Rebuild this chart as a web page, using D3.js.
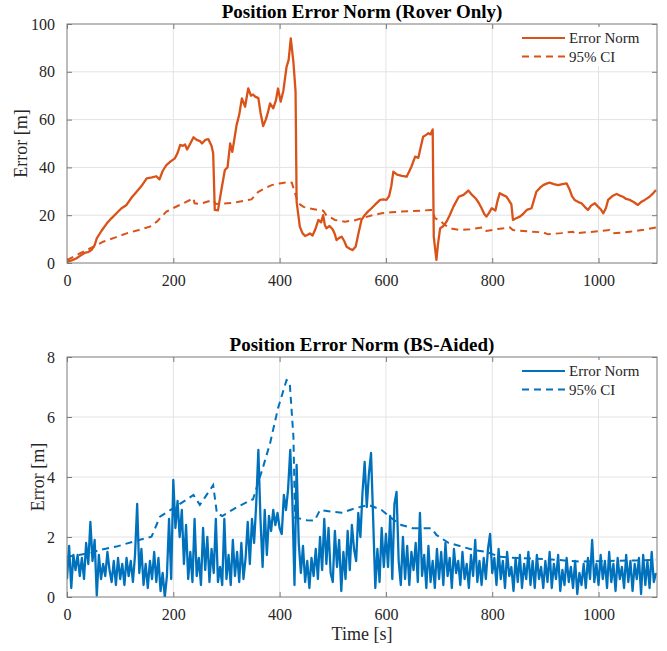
<!DOCTYPE html>
<html>
<head>
<meta charset="utf-8">
<script src="https://cdn.jsdelivr.net/npm/d3@7"></script>
<style>
  html, body { margin: 0; padding: 0; background: #fff; }
  svg { display: block; font-family: "Liberation Serif", "Times New Roman", serif; }
  svg text { font-family: "Liberation Serif", "Times New Roman", serif; }
  .tick text { font-size: 16px; fill: #262626; }
</style>
</head>
<body>
<svg id="chart" width="667" height="651"></svg>
<script>
// ---- Rover-only solution: error norm and 95% confidence bound ----
const roverTime = [0,10,18,26,34,40,46,52,56,65,75,84,93,102,112,122,131,140,150,160,168,174,180,187,195,203,208,213,218,222,226,232,238,244,250,254,260,266,272,275,278,284,290,297,302,307,311,315,319,324,329,335,341,346,350,354,360,364,369,374,378,382,388,393,397,402,407,413,417,421,426,430,432,438,443,448,453,457,462,467,473,478,482,485,488,494,500,504,507,512,517,522,526,532,537,543,548,554,560,566,573,580,589,595,601,606,610,614,621,630,639,648,655,661,665,670,675,680,684,688,690,695,698,702,708,714,720,727,737,746,755,762,769,775,780,785,789,794,799,806,810,814,820,827,832,836,839,845,852,858,865,874,878,883,890,896,902,908,916,924,932,940,946,950,955,962,968,974,980,986,993,999,1004,1009,1014,1018,1026,1034,1040,1046,1052,1059,1066,1074,1080,1087,1096,1102,1108];
const roverErr = [0.5,1.2,2,3.2,4.3,4.6,5.4,7.5,10.3,13.5,16.6,18.8,20.8,22.8,24.3,27.5,29.8,32.2,35.4,35.8,36.3,35,38.5,41,42.5,43.8,46,49.4,49,49.6,47.5,50,52.6,51.5,51,50,51.5,51.8,49,45.9,22.2,22,30,38.9,40,50,46.5,52,57.7,62,68.9,65.4,73.1,70,70.5,69.6,69,63,57.3,60,63,66.8,64.7,68,73,67.5,72,82,85,94,84,71.7,25.6,15.2,12.5,11.3,11.8,12.4,11.5,14,18,17,20,16,14.5,15.5,14,12,9.6,10.5,11,9,6.8,6,5.4,6.8,12,18,20,21.5,22.9,24.5,26.4,26.6,26.4,28,32,38.2,37,36.5,36.1,40.3,44.5,44,48,52.8,53.5,54.3,53.8,55.9,11,1.3,8,14.5,15.5,17.3,20,23.6,27.7,28.5,30.3,28.5,27,25,22.9,20.5,19.4,21,22.9,22,26,29.2,28.5,27.7,26,24.5,18,18.7,19.4,20.5,22.2,22.9,26,29.8,31.5,32.6,33.2,33.6,33,32.6,33,33.3,30.5,28,26.4,25.5,25,23.5,22.2,24,25,23.6,22.5,20.8,23,26.4,28,28.9,28.2,27.7,26.8,26.4,25.5,24.3,25.5,26.4,27.7,29,30.5];
const roverCITime = [0,24,50,68,90,112,135,156,169,187,200,219,238,240,250,262,275,280,290,313,347,360,372,385,400,416,423,429,435,445,454,470,482,488,504,523,540,554,575,592,610,629,650,667,684,688,692,701,710,717,725,739,758,783,789,810,833,839,870,896,905,930,952,955,985,1021,1027,1045,1059,1085,1108];
const roverCI = [1.2,4,6.8,8.9,10.6,12.4,13.8,15.2,17.3,21.5,23,25,27.1,25,24.7,25.5,26.4,24.7,24.8,25.2,26.6,29.8,31.2,32.6,33.3,33.8,33.6,29.2,25,23.5,22.9,22.3,21.9,20,18,17.3,17.8,18.7,20,20.8,21.2,21.5,21.7,21.9,22.2,22.2,18.7,18,16,15.2,14.3,13.8,14.1,14.9,13.4,14.2,14.9,13.8,13.2,12.8,12,12.5,13.1,12.4,13,13.8,12.4,12.7,13.1,13.9,14.9];

// ---- Base-station aided solution (sampled every 4 s) ----
const bsSampleStep = 4;
const bsErr = [
  0.6,1.7,0.3,1.4,0.9,1.4,0.7,1.3,0.6,1.8,1.1,2.5,1.2,1.9,0.05,1.4,0.6,1.1,0.7,1.5,0.9,0.5,1.2,0.4,1.3,
  0.6,1.1,0.4,1.3,0.7,1.2,0.5,1.4,3.1,0.8,1.6,0.4,1.1,0.3,1.2,0.6,1.5,0.5,1.3,0.2,0.8,0.0,0.7,2.6,0.6,
  3.9,2.3,3.2,2.0,2.9,1.1,2.4,0.6,1.5,0.5,2.6,0.7,1.3,0.4,2.3,0.9,2.0,0.5,1.6,0.8,2.6,0.5,1.0,0.4,2.6,
  0.6,1.4,0.4,1.9,0.7,1.5,0.5,1.8,0.6,1.3,2.5,1.1,2.6,1.8,3.1,4.9,2.6,1.0,2.9,1.4,2.7,2.2,2.9,2.4,2.8,
  2.3,2.1,3.4,2.9,3.6,4.9,3.2,0.4,4.4,1.8,0.8,1.7,0.5,1.2,0.3,1.3,0.7,1.6,0.6,2.0,0.9,2.6,1.1,2.3,0.8,
  0.5,2.2,1.0,1.9,0.2,1.5,0.6,2.2,0.9,2.4,1.6,1.2,2.8,2.0,3.5,4.5,3.0,4.1,4.8,2.6,0.3,1.6,0.5,2.3,1.0,
  2.1,1.0,2.7,0.6,3.1,3.5,1.2,0.4,2.0,0.6,1.7,0.4,1.5,0.9,1.8,0.5,2.8,0.7,1.4,0.3,1.7,0.5,1.2,0.3,1.6,
  0.6,1.5,0.4,1.8,0.7,1.3,0.3,1.6,0.8,1.2,0.4,1.5,0.6,1.1,0.3,1.4,0.7,1.9,0.5,1.2,0.4,1.3,0.6,1.6,2.1,
  0.8,1.3,0.4,1.6,0.6,1.2,0.3,1.5,0.7,1.0,0.2,1.3,0.5,1.4,0.3,1.1,0.6,1.5,0.4,1.2,0.3,1.4,0.6,1.0,0.3,
  1.2,0.5,1.5,0.3,1.1,0.6,1.4,0.2,0.9,0.4,1.3,0.5,1.0,0.3,1.2,0.1,0.8,0.4,1.1,0.3,1.3,0.6,1.9,0.5,1.1,
  0.4,1.4,0.6,1.2,0.3,1.5,0.5,1.1,0.2,1.3,0.6,1.0,0.3,1.4,0.5,1.2,0.2,1.1,0.6,1.3,0.1,1.4,0.4,1.2,0.3,1.5,0.5,0.8
];
const bsTime = bsErr.map((_, i) => i * bsSampleStep);
const bsCITime = [0,43,62,93,131,159,175,200,238,250,275,282,292,320,350,369,382,397,413,419,426,429,451,466,476,501,517,542,567,592,611,629,651,686,695,717,739,764,789,814,846,896,965,1015,1071,1108];
const bsCI = [1.34,1.46,1.57,1.68,1.88,2.01,2.68,2.96,3.4,3.07,3.73,2.79,2.7,3.0,3.26,4.34,5.12,6.29,7.23,7.15,5.34,2.65,2.56,2.55,2.9,2.84,2.81,2.96,3.07,2.9,2.62,2.4,2.29,2.29,2.07,1.81,1.7,1.57,1.5,1.34,1.3,1.27,1.18,1.2,1.22,1.24];

// ---- Axis ticks and labels ----
const timeTicks = [0, 200, 400, 600, 800, 1000];
const roverTicks = [0, 20, 40, 60, 80, 100];
const bsTicks = [0, 2, 4, 6, 8];
const legendLabels = ["Error Norm", "95% CI"];

const svg = d3.select("#chart");
const axisColor = "#7a7a7a";
const textColor = "#262626";
const gridColor = "#e3e3e3";
const serif = "'Liberation Serif', 'Times New Roman', serif";

const x = d3.scaleLinear().domain([0, 1110]).range([67, 657]);

function drawPanel(opts) {
  const { top, bottom, yMax, yTicks, title, color, errT, errV, ciT, ciV, id, showXLabel } = opts;
  const y = d3.scaleLinear().domain([0, yMax]).range([bottom, top]);
  const g = svg.append("g");
  const [x0, x1] = x.range();

  g.append("clipPath").attr("id", id).append("rect")
    .attr("x", x0).attr("y", top).attr("width", x1 - x0).attr("height", bottom - top);

  // grid
  g.append("g").selectAll("line").data(timeTicks.slice(1)).join("line")
    .attr("x1", d => x(d)).attr("x2", d => x(d)).attr("y1", top).attr("y2", bottom)
    .attr("stroke", gridColor).attr("stroke-width", 1);
  g.append("g").selectAll("line").data(yTicks.slice(1, -1)).join("line")
    .attr("x1", x0).attr("x2", x1).attr("y1", d => y(d)).attr("y2", d => y(d))
    .attr("stroke", gridColor).attr("stroke-width", 1);

  // series
  const lineGen = (tt) => d3.line().x((d, i) => x(tt[i])).y(d => y(d));
  const plot = g.append("g").attr("clip-path", `url(#${id})`);
  plot.append("path").datum(ciV).attr("d", lineGen(ciT))
    .attr("fill", "none").attr("stroke", color).attr("stroke-width", 2)
    .attr("stroke-dasharray", "7,5");
  plot.append("path").datum(errV).attr("d", lineGen(errT))
    .attr("fill", "none").attr("stroke", color).attr("stroke-width", 2.3)
    .attr("stroke-linejoin", "round");

  // axes (box with inward ticks on all sides)
  const tickLen = 5;
  const fmt = d3.format("d");
  const xb = d3.axisBottom(x).tickValues(timeTicks).tickSize(-tickLen).tickPadding(12).tickFormat(fmt);
  const xt = d3.axisTop(x).tickValues(timeTicks).tickSize(-tickLen).tickFormat("");
  const yl = d3.axisLeft(y).tickValues(yTicks).tickSize(-tickLen).tickPadding(12).tickFormat(fmt);
  const yr = d3.axisRight(y).tickValues(yTicks).tickSize(-tickLen).tickFormat("");
  const styleAxis = sel => {
    sel.attr("font-family", serif).attr("font-size", 16);
    sel.selectAll("line").attr("stroke", axisColor);
    sel.selectAll("text").attr("fill", textColor);
  };
  g.append("g").attr("transform", `translate(0,${bottom})`).call(xb).call(styleAxis);
  g.append("g").attr("transform", `translate(0,${top})`).call(xt).call(styleAxis);
  g.append("g").attr("transform", `translate(${x0},0)`).call(yl).call(styleAxis);
  g.append("g").attr("transform", `translate(${x1},0)`).call(yr).call(styleAxis);
  g.selectAll(".domain").remove();
  g.append("rect").attr("x", x0).attr("y", top).attr("width", x1 - x0).attr("height", bottom - top)
    .attr("fill", "none").attr("stroke", axisColor).attr("stroke-width", 1);

  // title
  g.append("text").attr("x", (x0 + x1) / 2).attr("y", top - 6)
    .attr("text-anchor", "middle").attr("font-weight", "bold")
    .attr("fill", "#000").style("font-size", "19px").text(title);

  // y label
  g.append("text")
    .attr("transform", `translate(${opts.yLabelX},${(top + bottom) / 2}) rotate(-90)`)
    .attr("text-anchor", "middle").attr("fill", textColor).style("font-size", "18px")
    .text("Error [m]");

  if (showXLabel) {
    g.append("text").attr("x", (x0 + x1) / 2).attr("y", bottom + 43)
      .attr("text-anchor", "middle").attr("fill", textColor).style("font-size", "18px")
      .text("Time [s]");
  }

  // legend
  const lg = g.append("g");
  lg.append("rect").attr("x", 515).attr("y", top + 3).attr("width", 140).attr("height", 39)
    .attr("fill", "#fff");
  legendLabels.forEach((lab, i) => {
    const ly = top + 14 + i * 18.5;
    lg.append("line").attr("x1", 522).attr("x2", 565).attr("y1", ly).attr("y2", ly)
      .attr("stroke", color).attr("stroke-width", 2)
      .attr("stroke-dasharray", i === 1 ? "7,5" : null);
    lg.append("text").attr("x", 569).attr("y", ly).attr("dy", "0.35em")
      .attr("fill", textColor).style("font-size", "15px").text(lab);
  });
}

drawPanel({
  id: "clipRover", top: 24, bottom: 263, yMax: 100, yTicks: roverTicks,
  title: "Position Error Norm (Rover Only)", color: "#D95319",
  errT: roverTime, errV: roverErr, ciT: roverCITime, ciV: roverCI,
  yLabelX: 27, showXLabel: false
});

drawPanel({
  id: "clipBS", top: 357, bottom: 597, yMax: 8, yTicks: bsTicks,
  title: "Position Error Norm (BS-Aided)", color: "#0072BD",
  errT: bsTime, errV: bsErr, ciT: bsCITime, ciV: bsCI,
  yLabelX: 44, showXLabel: true
});
</script>
</body>
</html>
